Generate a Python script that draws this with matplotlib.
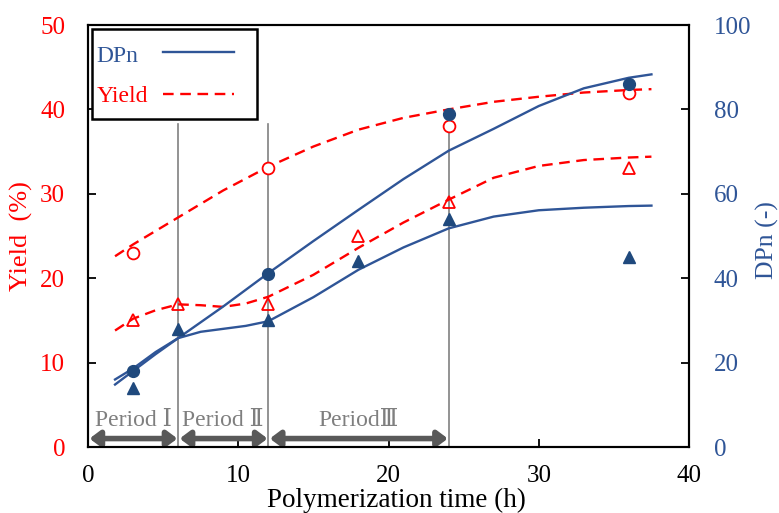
import matplotlib
matplotlib.use("Agg")
import matplotlib.pyplot as plt
from matplotlib.lines import Line2D
from matplotlib.patches import Rectangle

plt.rcParams['font.family'] = ['Liberation Serif', 'DejaVu Serif', 'Noto Sans CJK JP']

# ---- data ----
t_obs = [3, 12, 24, 36]
yield_circ = [23, 33, 38, 42]
dpn_circ = [18, 41, 79, 86]

t_tri = [3, 6, 12, 18, 24, 36]
yield_tri = [15, 17, 17, 25, 29, 33]
dpn_tri = [14, 28, 30, 44, 54, 45]

# fitted trend curves
cy1_t = [1.8, 3, 4.5, 6, 9, 12, 15, 18, 21, 24, 27, 30, 33, 36, 37.5]
cy1_v = [22.6, 24.0, 25.6, 27.2, 30.4, 33.2, 35.6, 37.6, 39.0, 40.0, 40.9, 41.5, 42.0, 42.3, 42.4]

cy2_t = [1.8, 3, 4.5, 6, 7.5, 9, 10.5, 12, 15, 18, 21, 24, 27, 30, 33, 36, 37.5]
cy2_v = [13.8, 15.2, 16.2, 16.9, 16.8, 16.6, 17.0, 17.8, 20.4, 23.6, 26.6, 29.3, 31.9, 33.3, 34.0, 34.3, 34.4]

cd1_t = [1.8, 3, 4.5, 6, 9, 12, 15, 18, 21, 24, 27, 30, 33, 36, 37.5]
cd1_v = [14.8, 18.0, 22.0, 25.8, 33.3, 41.2, 48.8, 56.2, 63.5, 70.2, 75.4, 80.8, 85.0, 87.5, 88.3]

cd2_t = [1.8, 3, 4.5, 6, 7.5, 9, 10.5, 12, 15, 18, 21, 24, 27, 30, 33, 36, 37.5]
cd2_v = [16.0, 18.6, 22.5, 25.8, 27.3, 28.0, 28.7, 29.8, 35.5, 42.0, 47.3, 51.8, 54.6, 56.1, 56.7, 57.1, 57.2]

period_bounds = [0, 6, 12, 24]
period_labels = ['Period Ⅰ', 'Period Ⅱ', 'PeriodⅢ']
vlines_t = [6, 12, 24]
legend_labels = ['DPn', 'Yield']

RED = '#FF0000'
NAVY = '#2F5597'
NAVYM = '#1F497D'
GRAY = '#808080'
DASH = (0, (4.5, 2.8))

fig = plt.figure(figsize=(7.79, 5.13), dpi=100)
ax = fig.add_axes([88/779, 1-447/513, (689-88)/779, (447-25)/513])
ax2 = ax.twinx()

# vertical period lines
for v in vlines_t:
    ax.plot([v, v], [0, 38.3], color=GRAY, lw=1.2, zorder=1)

# yield curves and points
ax.plot(cy1_t, cy1_v, color=RED, lw=1.7, ls=DASH, zorder=3)
ax.plot(cy2_t, cy2_v, color=RED, lw=1.7, ls=DASH, zorder=3)
ax.plot(t_obs, yield_circ, 'o', ms=8.5, mfc='white', mec=RED, mew=1.3, ls='none', zorder=4)
ax.plot(t_tri, yield_tri, '^', ms=9, mfc='none', mec=RED, mew=1.3, ls='none', zorder=4)

# DPn curves and points
ax2.plot(cd1_t, cd1_v, color=NAVY, lw=1.7, zorder=3)
ax2.plot(cd2_t, cd2_v, color=NAVY, lw=1.7, zorder=3)
ax2.plot(t_obs, dpn_circ, 'o', ms=8.5, color=NAVYM, ls='none', zorder=4)
ax2.plot(t_tri, dpn_tri, '^', ms=8, color=NAVYM, ls='none', zorder=4)

# period arrows and labels
for i in range(len(period_labels)):
    a, b = period_bounds[i], period_bounds[i + 1]
    ax.annotate('', xy=(b - 0.05, 1.0), xytext=(a + 0.1, 1.0),
                arrowprops=dict(arrowstyle='<|-|>,head_length=0.6,head_width=0.45',
                                color='#595959', lw=4, shrinkA=0, shrinkB=0,
                                mutation_scale=10), zorder=5)
    ax.text((a + b) / 2, 2.5, period_labels[i], ha='center', va='baseline',
            fontsize=17, color='#7F7F7F', zorder=5)

# axes formatting
ax.set_xlim(0, 40)
ax.set_ylim(0, 50)
ax2.set_ylim(0, 100)
ax.set_xticks([0, 10, 20, 30, 40])
ax.set_yticks([0, 10, 20, 30, 40, 50])
ax2.set_yticks([0, 20, 40, 60, 80, 100])

for a_ in (ax, ax2):
    for s in a_.spines.values():
        s.set_linewidth(1.5)
        s.set_color('black')

ax.tick_params(axis='both', direction='in', length=6, width=1.3, labelsize=18)
ax.tick_params(axis='y', colors='black', labelcolor=RED, pad=16.5)
ax.tick_params(axis='x', pad=13)
ax2.tick_params(axis='y', direction='in', length=6, width=1.3, labelsize=18,
                labelcolor=NAVY, pad=18)

ax.set_xlabel('Polymerization time (h)', fontsize=19.5)
ax.xaxis.set_label_coords(0.514, -0.098)
ax.set_ylabel('Yield  (%)', fontsize=19, color=RED)
ax.yaxis.set_label_coords(-0.0915, 0.5)
ax2.set_ylabel('DPn (-)', fontsize=18.5, color=NAVY)
ax2.yaxis.set_label_coords(1.1115, 0.49)

# legend box drawn by hand (text left, line sample right)
ax2.add_patch(Rectangle((0.0067, 0.777), 0.2745, 0.2135, transform=ax2.transAxes,
                        facecolor='white', edgecolor='black', lw=1.8, zorder=10,
                        clip_on=False))
leg_colors = [NAVY, RED]
leg_styles = ['-', DASH]
leg_text_y = [0.925, 0.830]
leg_line_y = [0.936, 0.836]
for lab, c, st, ty, ly in zip(legend_labels, leg_colors, leg_styles, leg_text_y, leg_line_y):
    ax2.text(0.014, ty, lab, transform=ax2.transAxes, fontsize=17, color=c,
             ha='left', va='center', zorder=11)
    ax2.add_line(Line2D([0.125, 0.243], [ly, ly], transform=ax2.transAxes,
                        color=c, lw=1.7, ls=st, zorder=11))

fig.savefig('out.png', dpi=100)
